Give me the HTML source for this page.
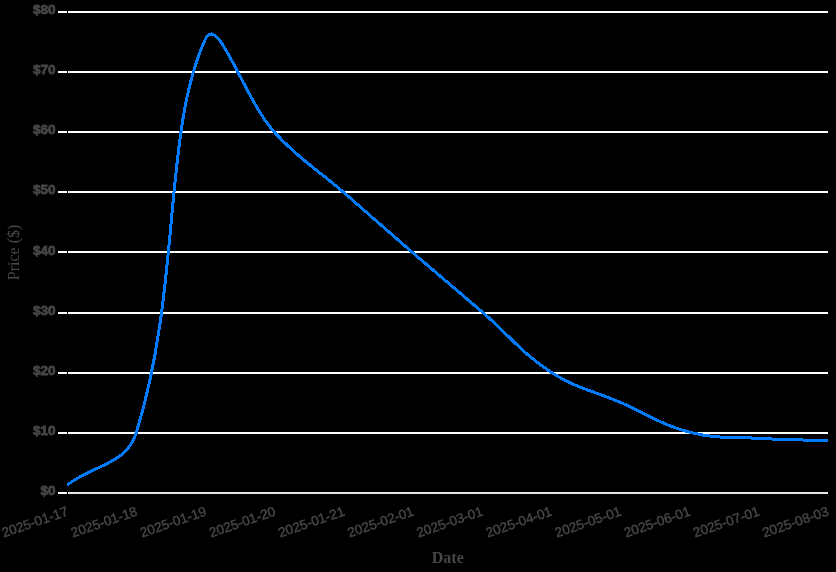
<!DOCTYPE html><html><head><meta charset="utf-8"><title>Price Chart</title><style>html,body{margin:0;padding:0;background:#000;width:836px;height:572px;overflow:hidden}svg{display:block;will-change:transform}</style></head><body>
<svg width="836" height="572" viewBox="0 0 836 572">
<rect width="836" height="572" fill="#000"/>
<g shape-rendering="crispEdges"><rect x="58" y="492" width="9" height="2" fill="#fff"/><rect x="68" y="492" width="1" height="2" fill="#fff"/><rect x="69" y="492" width="759" height="2" fill="#e6e6e6"/><rect x="58" y="432" width="9" height="2" fill="#fff"/><rect x="68" y="432" width="760" height="2" fill="#fff"/><rect x="58" y="372" width="9" height="2" fill="#fff"/><rect x="68" y="372" width="760" height="2" fill="#fff"/><rect x="58" y="312" width="9" height="2" fill="#fff"/><rect x="68" y="312" width="760" height="2" fill="#fff"/><rect x="58" y="251" width="9" height="2" fill="#fff"/><rect x="68" y="251" width="760" height="2" fill="#fff"/><rect x="58" y="191" width="9" height="2" fill="#fff"/><rect x="68" y="191" width="760" height="2" fill="#fff"/><rect x="58" y="131" width="9" height="2" fill="#fff"/><rect x="68" y="131" width="760" height="2" fill="#fff"/><rect x="58" y="71" width="9" height="2" fill="#fff"/><rect x="68" y="71" width="760" height="2" fill="#fff"/><rect x="58" y="11" width="9" height="2" fill="#fff"/><rect x="68" y="11" width="760" height="2" fill="#fff"/></g>
<g font-family="'Liberation Sans', sans-serif" font-size="13.5" font-weight="bold" fill="#444" stroke="#444" stroke-width="0.9" text-anchor="end"><text x="55.50" y="495.08">$0</text><text x="55.50" y="434.96">$10</text><text x="55.50" y="374.83">$20</text><text x="55.50" y="314.71">$30</text><text x="55.50" y="254.58">$40</text><text x="55.50" y="194.46">$50</text><text x="55.50" y="134.33">$60</text><text x="55.50" y="74.21">$70</text><text x="55.50" y="14.08">$80</text></g>
<g font-family="'Liberation Sans', sans-serif" font-size="13.5" font-weight="normal" fill="#474747" stroke="#474747" stroke-width="0.4" text-anchor="end"><text transform="translate(67.50 510.70) rotate(-19.000)" x="0" y="4.60">2025-01-17</text><text transform="translate(136.64 510.70) rotate(-19.000)" x="0" y="4.60">2025-01-18</text><text transform="translate(205.77 510.70) rotate(-19.000)" x="0" y="4.60">2025-01-19</text><text transform="translate(274.91 510.70) rotate(-19.000)" x="0" y="4.60">2025-01-20</text><text transform="translate(344.05 510.70) rotate(-19.000)" x="0" y="4.60">2025-01-21</text><text transform="translate(413.18 510.70) rotate(-19.000)" x="0" y="4.60">2025-02-01</text><text transform="translate(482.32 510.70) rotate(-19.000)" x="0" y="4.60">2025-03-01</text><text transform="translate(551.45 510.70) rotate(-19.000)" x="0" y="4.60">2025-04-01</text><text transform="translate(620.59 510.70) rotate(-19.000)" x="0" y="4.60">2025-05-01</text><text transform="translate(689.73 510.70) rotate(-19.000)" x="0" y="4.60">2025-06-01</text><text transform="translate(758.86 510.70) rotate(-19.000)" x="0" y="4.60">2025-07-01</text><text transform="translate(828.00 510.70) rotate(-19.000)" x="0" y="4.60">2025-08-03</text></g>
<g font-family='"Liberation Serif", serif' font-size="16" fill="#474747" text-anchor="middle">
<text x="447.75" y="562.85" font-weight="bold">Date</text>
<text transform="translate(13.60 252.48) rotate(-90)" y="5.45" font-weight="normal">Price ($)</text>
</g>
<defs><clipPath id="ca"><rect x="65.50" y="0" width="762.50" height="572"/></clipPath></defs>
<path clip-path="url(#ca)" d="M67.000 485.068 C94.673 464.231 126.329 464.729 136.182 432.975 C181.675 286.355 162.473 132.311 205.364 39.132 C217.818 12.076 243.607 98.110 274.545 132.386 C298.952 159.426 316.094 168.361 343.727 192.421 C371.440 216.550 385.097 228.846 412.909 252.859 C440.442 276.631 454.559 288.110 482.091 311.884 C509.905 335.900 520.879 352.455 551.273 372.333 C576.225 388.653 592.769 390.389 620.455 402.378 C648.115 414.355 660.835 424.759 689.636 432.248 C716.181 439.150 731.099 436.673 758.818 438.356 C786.445 440.035 800.327 439.735 828.000 440.653" fill="none" stroke="#007bff" stroke-width="3" stroke-linejoin="round" stroke-linecap="butt" shape-rendering="crispEdges"/>
</svg></body></html>
